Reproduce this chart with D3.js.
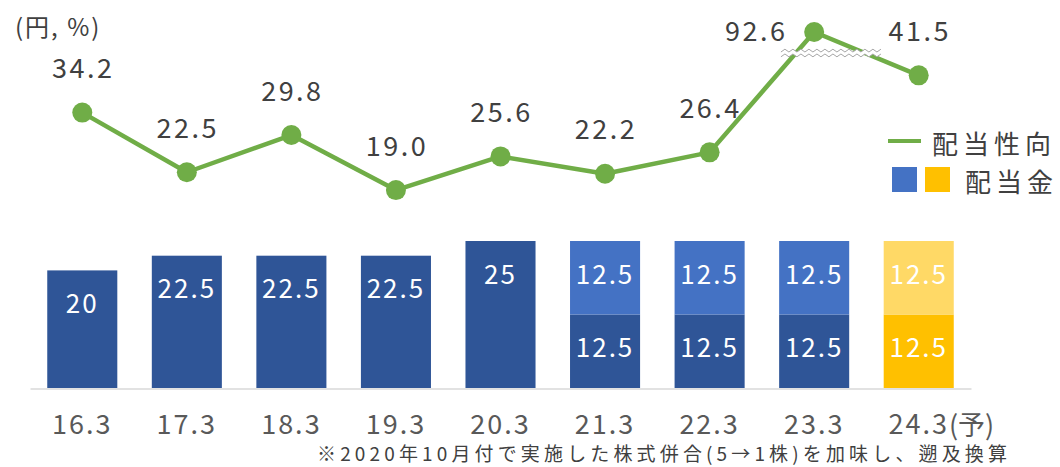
<!DOCTYPE html>
<html>
<head>
<meta charset="utf-8">
<script src="https://cdn.jsdelivr.net/npm/d3@7"></script>
<style>
  body { margin: 0; background: #fff; }
  text { font-family: "Noto Sans CJK JP", "Noto Sans", sans-serif; }
</style>
</head>
<body>
<div id="chart"></div>
<script>
// Data
const categories = ["16.3", "17.3", "18.3", "19.3", "20.3", "21.3", "22.3", "23.3", "24.3"];
const categorySuffix = ["", "", "", "", "", "", "", "", "(予)"];
const dividendLower = [20, 22.5, 22.5, 22.5, 25, 12.5, 12.5, 12.5, 12.5];
const dividendUpper = [0, 0, 0, 0, 0, 12.5, 12.5, 12.5, 12.5];
const payoutRatio = [34.2, 22.5, 29.8, 19.0, 25.6, 22.2, 26.4, 92.6, 41.5];
const isForecast = [false, false, false, false, false, false, false, false, true];

const width = 1060, height = 467;
const textColor = "#404040";
const green = "#70AD47";

const svg = d3.select("#chart").append("svg")
  .attr("width", width)
  .attr("height", height);

// Scales
const x = d3.scaleBand()
  .domain(categories)
  .range([30, 971])
  .paddingInner(0.33)
  .paddingOuter(0.165);

const yBar = d3.scaleLinear().domain([0, 25]).range([388, 241]);

// broken axis for the payout ratio: above 46 the scale is squeezed
const breakAt = 46;
const yLine = d3.scaleLinear().domain([0, breakAt, 120]).range([287, 52.4, 20]);

const cx = d => x(d) + x.bandwidth() / 2;

// Bars
const barData = categories.map((c, i) => ({
  cat: c,
  lower: dividendLower[i],
  upper: dividendUpper[i],
  forecast: isForecast[i]
}));

const bars = svg.append("g").attr("class", "bars");

barData.forEach(d => {
  const lowerColor = d.forecast ? "#FFC000" : "#2F5597";
  const upperColor = d.forecast ? "#FFD966" : "#4472C4";

  bars.append("rect")
    .attr("x", x(d.cat))
    .attr("y", yBar(d.lower))
    .attr("width", x.bandwidth())
    .attr("height", yBar(0) - yBar(d.lower))
    .attr("fill", lowerColor);

  bars.append("text")
    .attr("x", cx(d.cat))
    .attr("y", yBar(d.lower) + 31)
    .attr("text-anchor", "middle")
    .attr("dominant-baseline", "central")
    .attr("fill", "#fff")
    .style("font-size", "26px")
    .style("letter-spacing", "2px")
    .text(d.lower);

  if (d.upper > 0) {
    const top = d.lower + d.upper;
    bars.append("rect")
      .attr("x", x(d.cat))
      .attr("y", yBar(top))
      .attr("width", x.bandwidth())
      .attr("height", yBar(d.lower) - yBar(top))
      .attr("fill", upperColor);

    bars.append("text")
      .attr("x", cx(d.cat))
      .attr("y", yBar(top) + 31)
      .attr("text-anchor", "middle")
      .attr("dominant-baseline", "central")
      .attr("fill", "#fff")
      .style("font-size", "26px")
      .style("letter-spacing", "2px")
      .text(d.upper);
  }
});

// Category axis
const xAxis = svg.append("g")
  .attr("transform", "translate(0,388.5)")
  .call(d3.axisBottom(x).tickSize(0).tickPadding(0));

xAxis.select(".domain").attr("stroke", "#D9D9D9").attr("stroke-width", 1.5);
xAxis.selectAll(".tick text")
  .attr("y", 34)
  .attr("dy", null)
  .attr("dominant-baseline", "central")
  .attr("fill", "#595959")
  .style("font-size", "27px")
  .style("letter-spacing", "2px");

// suffix like "(予)" hangs after the centered label
xAxis.selectAll(".tick text").each(function(d) {
  const i = categories.indexOf(d);
  if (!categorySuffix[i]) return;
  const t = d3.select(this);
  const len = this.getComputedTextLength();
  t.attr("text-anchor", "start").attr("x", -len / 2);
  t.append("tspan").style("letter-spacing", "0px").text(categorySuffix[i]);
});

// Payout ratio line
const linePts = categories.map((c, i) => [cx(c), yLine(payoutRatio[i])]);

svg.append("path")
  .attr("d", d3.line()(linePts))
  .attr("fill", "none")
  .attr("stroke", green)
  .attr("stroke-width", 4.5)
  .attr("stroke-linejoin", "round");

// Break marker across both segments around the broken value
function crossX(p, q, yy) {
  return p[0] + (q[0] - p[0]) * (yy - p[1]) / (q[1] - p[1]);
}
const breakY = yLine(breakAt) + 0.6;
const bi = payoutRatio.findIndex(v => v > breakAt);
const bx0 = crossX(linePts[bi - 1], linePts[bi], breakY) - 15;
const bx1 = crossX(linePts[bi], linePts[bi + 1], breakY) + 16;
const step = 4;
const nZig = Math.round((bx1 - bx0) / step);
const zig = i => (i % 2 ? -1.4 : 1.4);
const topZ = d3.range(nZig + 1).map(i => [bx0 + i * step, breakY - 2.4 + zig(i)]);
const botZ = d3.range(nZig + 1).map(i => [bx0 + i * step, breakY + 2.4 + zig(i)]);

svg.append("path")
  .attr("d", d3.line()(topZ.concat(botZ.slice().reverse())) + "Z")
  .attr("fill", "#fff");
[topZ, botZ].forEach(z => {
  svg.append("path")
    .attr("d", d3.line()(z))
    .attr("fill", "none")
    .attr("stroke", "#A6A6A6")
    .attr("stroke-width", 1);
});

// Markers
svg.append("g").selectAll("circle")
  .data(linePts)
  .join("circle")
  .attr("cx", d => d[0])
  .attr("cy", d => d[1])
  .attr("r", 10)
  .attr("fill", green);

// Line labels
const fmt = d3.format(".1f");
svg.append("g").selectAll("text")
  .data(linePts)
  .join("text")
  .attr("x", (d, i) => i === bi ? d[0] - 58 : d[0] + 1)
  .attr("y", (d, i) => i === bi ? d[1] - 2 : d[1] - 46)
  .attr("text-anchor", "middle")
  .attr("dominant-baseline", "central")
  .attr("fill", textColor)
  .style("font-size", "27px")
  .style("letter-spacing", "2.5px")
  .text((d, i) => fmt(payoutRatio[i]));

// Unit label
svg.append("text")
  .attr("x", 15)
  .attr("y", 25)
  .attr("dominant-baseline", "central")
  .attr("fill", textColor)
  .style("font-size", "24px")
  .style("letter-spacing", "2px")
  .text("(円, %)");

// Legend
const legend = svg.append("g");
legend.append("line")
  .attr("x1", 888).attr("x2", 921)
  .attr("y1", 141).attr("y2", 141)
  .attr("stroke", green)
  .attr("stroke-width", 4);
legend.append("text")
  .attr("x", 932).attr("y", 142)
  .attr("dominant-baseline", "central")
  .attr("fill", textColor)
  .style("font-size", "26px")
  .style("letter-spacing", "5px")
  .text("配当性向");
legend.append("rect")
  .attr("x", 892).attr("y", 167)
  .attr("width", 25).attr("height", 25)
  .attr("fill", "#4472C4");
legend.append("rect")
  .attr("x", 925).attr("y", 167)
  .attr("width", 25).attr("height", 25)
  .attr("fill", "#FFC000");
legend.append("text")
  .attr("x", 965).attr("y", 180)
  .attr("dominant-baseline", "central")
  .attr("fill", textColor)
  .style("font-size", "26px")
  .style("letter-spacing", "5px")
  .text("配当金");

// Footnote, spread to the same width as the original
const noteText = "※2020年10月付で実施した株式併合(5→1株)を加味し、遡及換算";
const note = svg.append("text")
  .attr("x", 317)
  .attr("y", 452)
  .attr("dominant-baseline", "central")
  .attr("fill", textColor)
  .style("font-size", "19px")
  .text(noteText);
const noteLen = note.node().getComputedTextLength();
const spacing = Math.max(0, (690 - noteLen) / (noteText.length - 1));
note.style("letter-spacing", spacing + "px");
</script>
</body>
</html>
